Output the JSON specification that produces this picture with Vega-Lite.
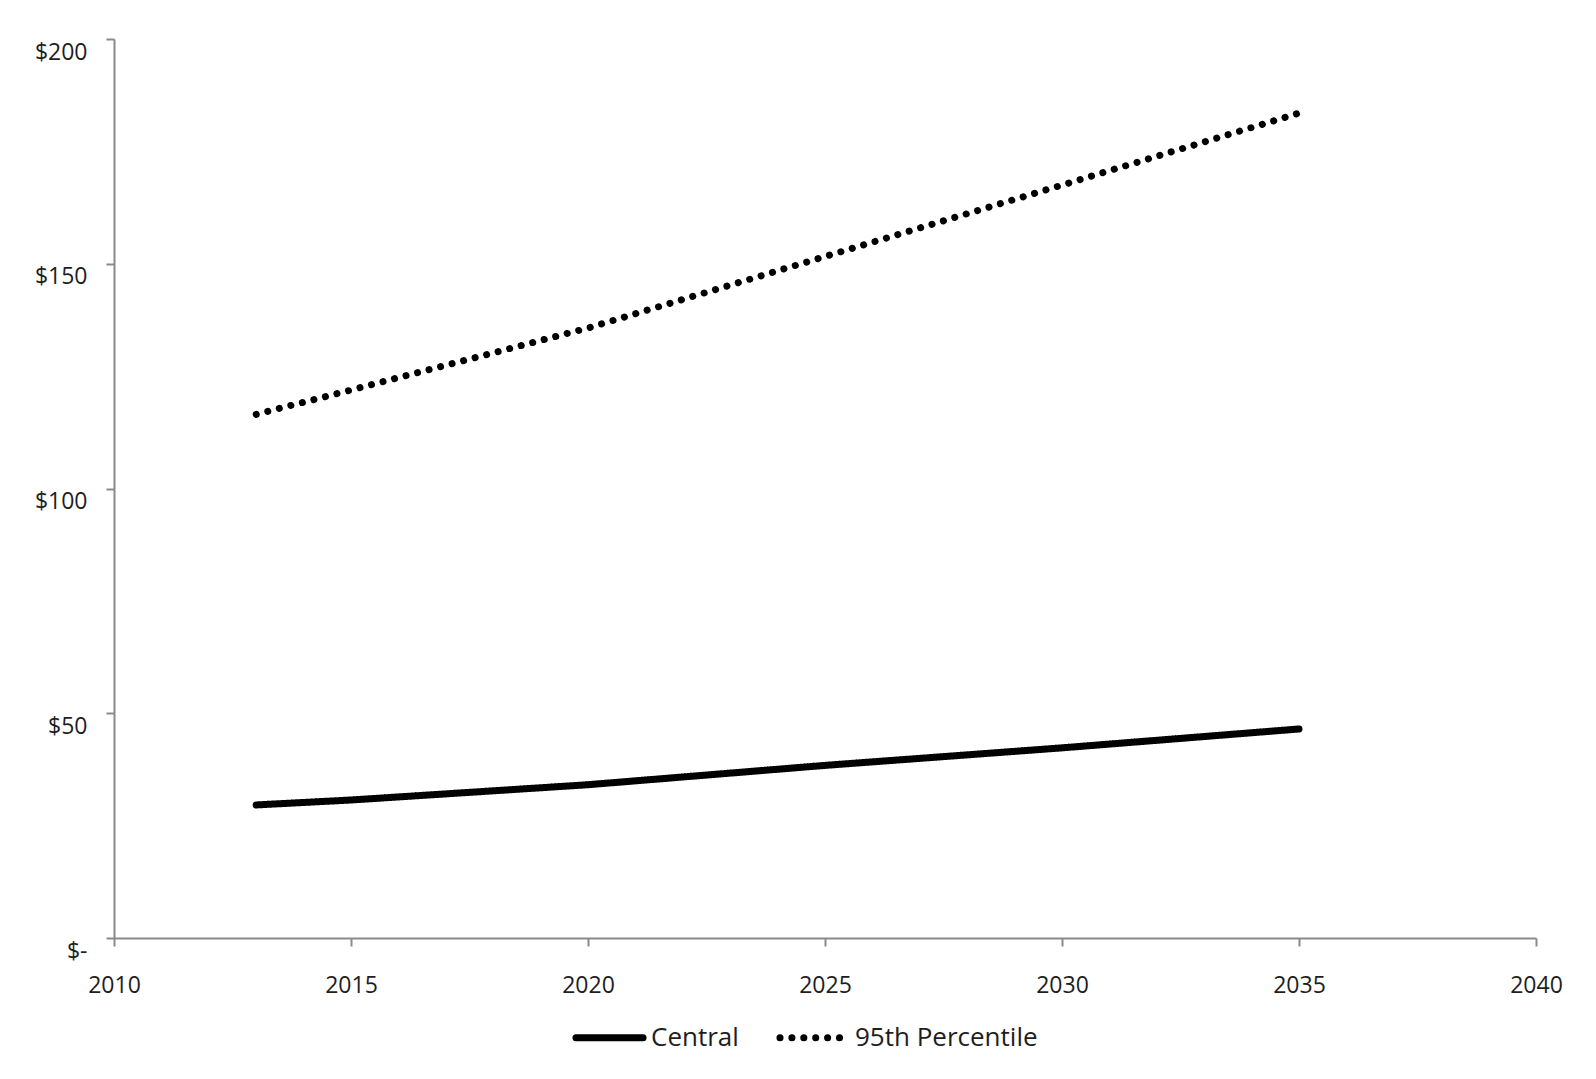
{
  "$schema": "https://vega.github.io/schema/vega-lite/v6.json",
  "autosize": {"type": "none"},
  "width": 1422,
  "height": 899,
  "padding": {"left": 114, "top": 39, "right": 60, "bottom": 141},
  "background": "white",
  "config": {
    "view": {"stroke": null},
    "font": "Open Sans",
    "axis": {
      "domainColor": "#8a8a8a",
      "domainWidth": 2,
      "tickColor": "#8a8a8a",
      "tickWidth": 2,
      "tickSize": 8,
      "grid": false,
      "labelFont": "Open Sans",
      "labelFontSize": 23,
      "labelColor": "#1e1e1e",
      "title": null
    }
  },
  "data": {
    "values": [
      {"year": 2013, "value": 29.6, "series": "Central"},
      {"year": 2015, "value": 30.7, "series": "Central"},
      {"year": 2020, "value": 34.1, "series": "Central"},
      {"year": 2025, "value": 38.4, "series": "Central"},
      {"year": 2030, "value": 42.3, "series": "Central"},
      {"year": 2035, "value": 46.5, "series": "Central"},
      {"year": 2013, "value": 116.5, "series": "95th Percentile"},
      {"year": 2015, "value": 121.9, "series": "95th Percentile"},
      {"year": 2020, "value": 135.7, "series": "95th Percentile"},
      {"year": 2025, "value": 151.6, "series": "95th Percentile"},
      {"year": 2030, "value": 167.5, "series": "95th Percentile"},
      {"year": 2035, "value": 183.5, "series": "95th Percentile"}
    ]
  },
  "mark": {"type": "line", "strokeCap": "round", "strokeJoin": "round", "color": "black"},
  "encoding": {
    "x": {
      "field": "year",
      "type": "quantitative",
      "scale": {"domain": [2010, 2040], "nice": false, "zero": false},
      "axis": {"values": [2010, 2015, 2020, 2025, 2030, 2035, 2040], "format": "d", "labelPadding": 28, "labelFlush": false}
    },
    "y": {
      "field": "value",
      "type": "quantitative",
      "scale": {"domain": [0, 200], "nice": false},
      "axis": {"values": [0, 50, 100, 150, 200], "labelExpr": "datum.value == 0 ? '$-' : '$' + datum.value", "labelPadding": 19, "labelOffset": 13, "labelFlush": false}
    },
    "strokeDash": {
      "field": "series",
      "type": "nominal",
      "scale": {"domain": ["Central", "95th Percentile"], "range": [[1, 0], [0.1, 11.8]]},
      "legend": {
        "title": null,
        "orient": "none",
        "legendX": 458,
        "legendY": 961,
        "direction": "horizontal",
        "symbolType": "stroke",
        "symbolSize": 4500,
        "symbolStrokeColor": "black",
        "labelFont": "Open Sans",
        "labelFontSize": 26,
        "labelLimit": 500,
        "labelColor": "#1e1e1e",
        "labelOffset": 4,
        "columnPadding": 26,
        "encode": {"symbols": {"update": {"strokeCap": {"value": "round"}}}}
      }
    },
    "strokeWidth": {
      "field": "series",
      "type": "nominal",
      "scale": {"domain": ["Central", "95th Percentile"], "range": [7, 7]},
      "legend": null
    }
  }
}
